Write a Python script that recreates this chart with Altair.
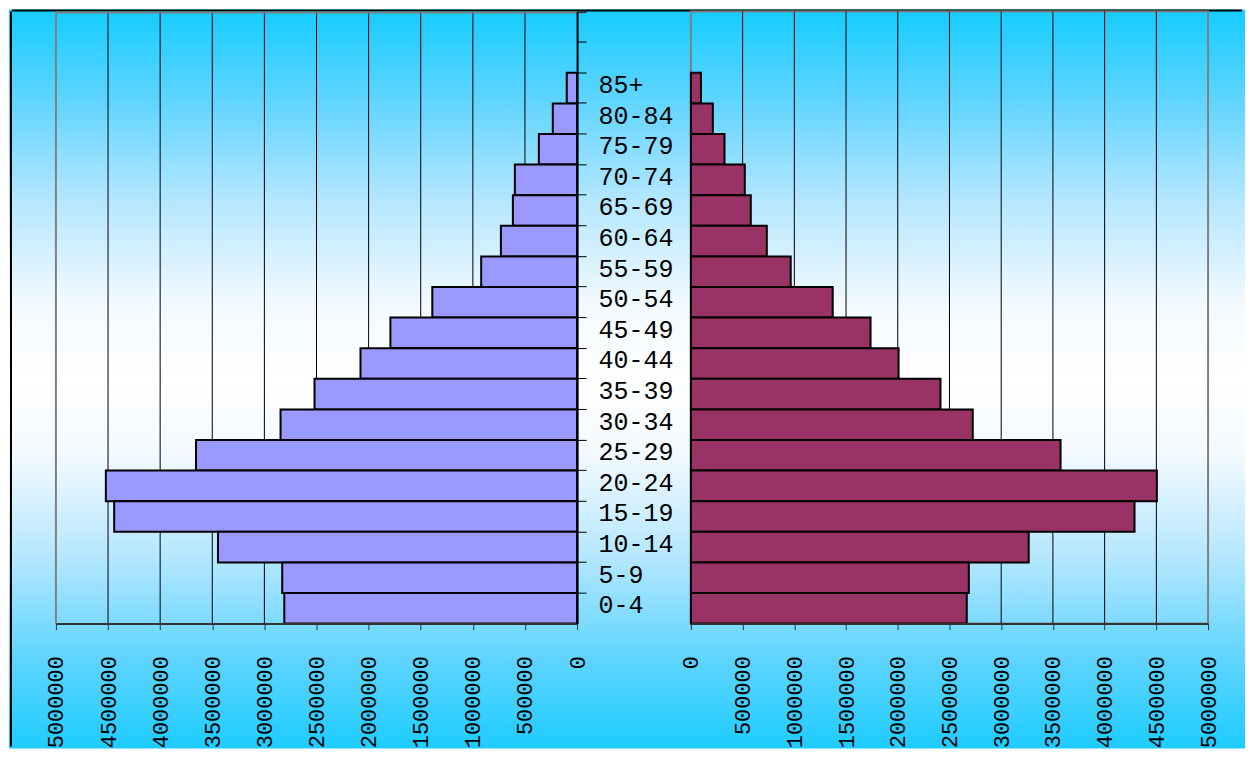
import altair as alt
import pandas as pd

# ---- data ----
ages = ["85+", "80-84", "75-79", "70-74", "65-69", "60-64", "55-59", "50-54",
        "45-49", "40-44", "35-39", "30-34", "25-29", "20-24", "15-19", "10-14",
        "5-9", "0-4"]
male = [99000, 233000, 367000, 597000, 616000, 731000, 920000, 1389000,
        1791000, 2078000, 2519000, 2845000, 3656000, 4521000, 4441000, 3445000,
        2829000, 2809000]
female = [97000, 212000, 325000, 521000, 579000, 734000, 965000, 1371000,
          1737000, 2008000, 2413000, 2725000, 3574000, 4505000, 4289000, 3266000,
          2687000, 2667000]
blank_slots = ["blank1", "blank2"]
tick_values = [0, 500000, 1000000, 1500000, 2000000, 2500000, 3000000,
               3500000, 4000000, 4500000, 5000000]
grid_values = tick_values[1:-1]

stop_offsets = [0.0, 0.12, 0.26, 0.40, 0.50, 0.60, 0.74, 0.88, 1.0]
stop_colors = ["#14CCFF", "#5ED4FF", "#B5E7FF", "#F3FAFF", "#FFFFFF",
               "#F3FAFF", "#B5E7FF", "#5ED4FF", "#1ECCFF"]

df = pd.DataFrame({"age": ages, "male": male, "female": female})
grid_df = pd.DataFrame({"v": grid_values})
one = pd.DataFrame({"k": [0]})

W_L, W_R, H = 522, 518, 613
FONT = "Liberation Mono"

y_domain = blank_slots + ages
yscale = alt.Scale(domain=y_domain, paddingInner=0, paddingOuter=0)
xl_scale = alt.Scale(domain=[0, 5000000], reverse=True, nice=False)
xr_scale = alt.Scale(domain=[0, 5000000], nice=False)


def x_axis():
    return alt.Axis(values=tick_values, format="d", labelAngle=270,
                    labelAlign="right", labelBaseline="middle", labelPadding=26,
                    tickSize=6, tickColor="#333333",
                    domainColor="#333333", domainWidth=2,
                    labelFont=FONT, labelFontSize=22, labelColor="black",
                    labelFlush=False, labelOverlap=False, grid=False,
                    title=None, zindex=1)


grad = alt.LinearGradient(
    gradient="linear", x1=0, y1=0, x2=0, y2=1,
    stops=[alt.GradientStop(offset=o, color=c) for o, c in zip(stop_offsets, stop_colors)],
)

bg = alt.Chart(one).mark_rect(fill=grad).encode(
    x=alt.value(-47), x2=alt.value(1191), y=alt.value(-2), y2=alt.value(738)
)
border_left = alt.Chart(one).mark_rule(color="black", strokeWidth=2).encode(
    x=alt.value(-45), y=alt.value(0), y2=alt.value(736)
)
border_top = alt.Chart(one).mark_rule(color="black", strokeWidth=2).encode(
    x=alt.value(-44), x2=alt.value(1188), y=alt.value(-1)
)
frame_top_l = alt.Chart(one).mark_rule(color="#808080", strokeWidth=2).encode(
    x=alt.value(0), x2=alt.value(W_L + 9), y=alt.value(1)
)
frame_left_l = alt.Chart(one).mark_rule(color="#808080", strokeWidth=2).encode(
    x=alt.value(0), y=alt.value(0), y2=alt.value(H)
)

grid_left = alt.Chart(grid_df).mark_rule(color="black", strokeWidth=1).encode(
    x=alt.X("v:Q", scale=xl_scale, axis=x_axis())
)

bars_left = alt.Chart(df).mark_bar(color="#9999FF", stroke="black", strokeWidth=2).encode(
    x=alt.X("male:Q", scale=xl_scale, axis=x_axis()),
    y=alt.Y("age:N", scale=yscale, sort=y_domain,
            axis=alt.Axis(orient="right", title=None,
                          labelExpr="indexof(datum.value, 'blank') == 0 ? '' : datum.label",
                          labelFont=FONT, labelFontSize=25, labelColor="black",
                          labelAlign="left", labelBaseline="middle",
                          bandPosition=0, labelOffset=-3,
                          labelPadding=12, tickSize=9, tickColor="black",
                          domainColor="black", domainWidth=2, zindex=1,
                          labelOverlap=False)),
)

left = alt.layer(bg, border_left, border_top, grid_left, frame_top_l,
                 frame_left_l, bars_left).properties(width=W_L, height=H)

grid_right = alt.Chart(grid_df).mark_rule(color="black", strokeWidth=1).encode(
    x=alt.X("v:Q", scale=xr_scale, axis=x_axis())
)
bars_right = alt.Chart(df).mark_bar(color="#993366", stroke="black", strokeWidth=2).encode(
    x=alt.X("female:Q", scale=xr_scale, axis=x_axis()),
    y=alt.Y("age:N", scale=yscale, sort=y_domain, axis=None),
)
right = alt.layer(grid_right, bars_right).properties(width=W_R, height=H)

chart = (
    alt.hconcat(left, right, spacing=114, bounds="flush")
    .properties(padding=0)
    .configure_view(stroke="#808080", strokeWidth=2)
    .configure_axis(grid=False)
)

chart.save("out.html", embed_options={"renderer": "svg", "actions": False})
